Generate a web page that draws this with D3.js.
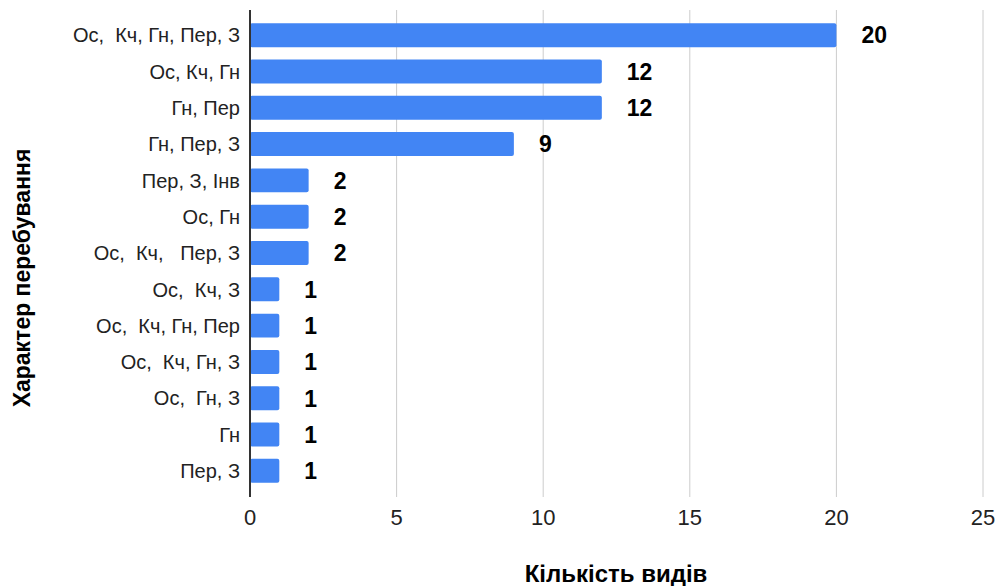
<!DOCTYPE html>
<html>
<head>
<meta charset="utf-8">
<script src="https://cdn.jsdelivr.net/npm/d3@7"></script>
<style>
  body { margin: 0; background: #fff; }
  text { font-family: "Liberation Sans", Arial, sans-serif; }
</style>
</head>
<body>
<script>
var width = 997, height = 586;

// data
var categories = [
  "Ос,  Кч, Гн, Пер, З",
  "Ос, Кч, Гн",
  "Гн, Пер",
  "Гн, Пер, З",
  "Пер, З, Інв",
  "Ос, Гн",
  "Ос,  Кч,   Пер, З",
  "Ос,  Кч, З",
  "Ос,  Кч, Гн, Пер",
  "Ос,  Кч, Гн, З",
  "Ос,  Гн, З",
  "Гн",
  "Пер, З"
];
var values = [20, 12, 12, 9, 2, 2, 2, 1, 1, 1, 1, 1, 1];
var xTicks = [0, 5, 10, 15, 20, 25];

var svg = d3.select("body").append("svg")
  .attr("width", width)
  .attr("height", height);

var xScale = d3.scaleLinear()
  .domain([0, 25])
  .range([250, 983]);

var yScale = d3.scaleBand()
  .domain(categories)
  .range([17, 489])
  .paddingInner(0.34)
  .paddingOuter(0.17);

// gridlines
svg.append("g")
  .selectAll("line")
  .data(xTicks.slice(1))
  .enter().append("line")
    .attr("x1", function(d) { return xScale(d); })
    .attr("x2", function(d) { return xScale(d); })
    .attr("y1", 10)
    .attr("y2", 497)
    .attr("stroke", "#cccccc")
    .attr("stroke-width", 1);

// bars
svg.append("g")
  .selectAll("rect")
  .data(values)
  .enter().append("rect")
    .attr("x", xScale(0))
    .attr("y", function(d, i) { return yScale(categories[i]); })
    .attr("width", function(d) { return xScale(d) - xScale(0); })
    .attr("height", yScale.bandwidth())
    .attr("rx", 2)
    .attr("fill", "#4285f4");

// value labels
svg.append("g")
  .selectAll("text")
  .data(values)
  .enter().append("text")
    .attr("x", function(d) { return xScale(d) + 25; })
    .attr("y", function(d, i) { return yScale(categories[i]) + yScale.bandwidth() / 2; })
    .attr("dy", "0.36em")
    .attr("font-size", 23)
    .attr("font-weight", "bold")
    .attr("fill", "#000")
    .text(function(d) { return d; });

// y axis line
svg.append("line")
  .attr("x1", xScale(0))
  .attr("x2", xScale(0))
  .attr("y1", 10)
  .attr("y2", 497)
  .attr("stroke", "#333333")
  .attr("stroke-width", 2);

// category labels
svg.append("g")
  .selectAll("text")
  .data(categories)
  .enter().append("text")
    .attr("x", 240)
    .attr("y", function(d) { return yScale(d) + yScale.bandwidth() / 2; })
    .attr("dy", "0.36em")
    .attr("text-anchor", "end")
    .attr("font-size", 20)
    .attr("fill", "#222")
    .style("white-space", "pre")
    .text(function(d) { return d; });

// x tick labels
svg.append("g")
  .selectAll("text")
  .data(xTicks)
  .enter().append("text")
    .attr("x", function(d) { return xScale(d); })
    .attr("y", 517)
    .attr("dy", "0.36em")
    .attr("text-anchor", "middle")
    .attr("font-size", 22)
    .attr("fill", "#222")
    .text(function(d) { return d; });

// axis titles
svg.append("text")
  .attr("x", 616)
  .attr("y", 582)
  .attr("text-anchor", "middle")
  .attr("font-size", 24)
  .attr("font-weight", "bold")
  .text("Кількість видів");

svg.append("text")
  .attr("transform", "translate(22,278) rotate(-90)")
  .attr("dy", "0.36em")
  .attr("text-anchor", "middle")
  .attr("font-size", 23)
  .attr("font-weight", "bold")
  .text("Характер перебування");
</script>
</body>
</html>
